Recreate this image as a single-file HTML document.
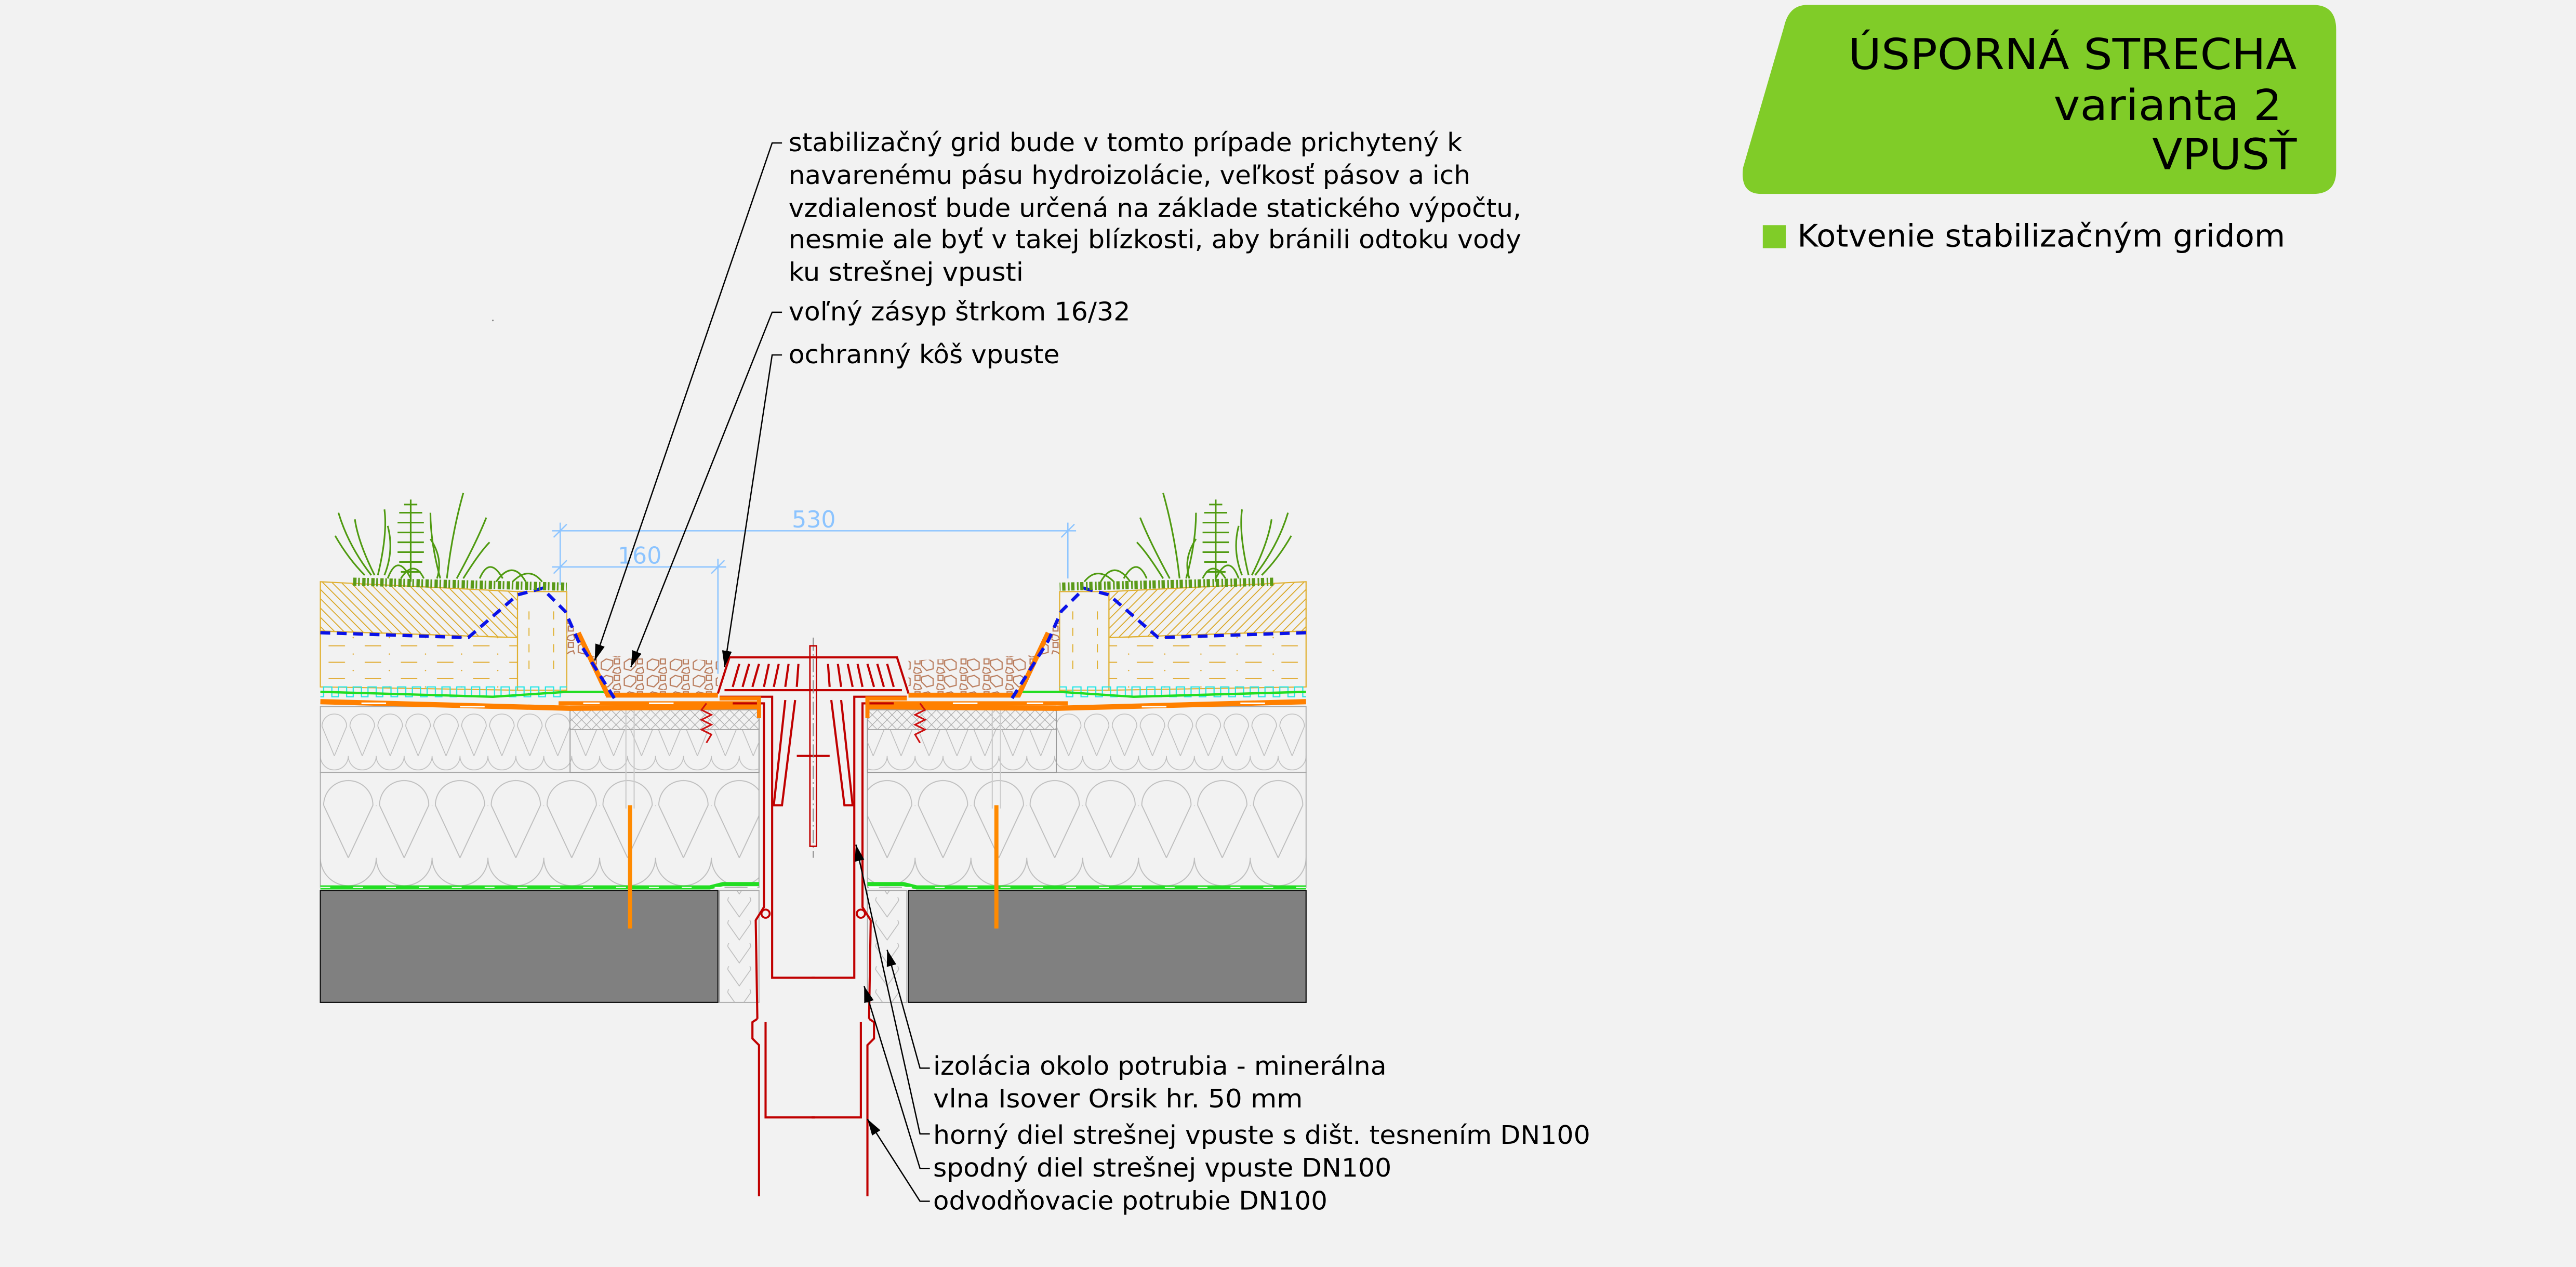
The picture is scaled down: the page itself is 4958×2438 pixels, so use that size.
<!DOCTYPE html>
<html><head><meta charset="utf-8">
<style>
html,body{margin:0;padding:0;background:#f2f2f2;}
svg{display:block;}
text{font-family:"DejaVu Sans","Liberation Sans",sans-serif;fill:#000;}
</style></head>
<body>
<svg width="4958" height="2438" viewBox="0 0 1568 771" xmlns="http://www.w3.org/2000/svg">
<defs>
<pattern id="insL" width="34" height="70" patternUnits="userSpaceOnUse" x="195" y="470">
<path d="M2,20 A15,15 0 0 1 32,20 L17,52 M2,20 L17,52 M0,52 A17,17 0 0 0 34,52" fill="none" stroke="#bdbdbd" stroke-width="0.6"/>
<path d="M-15,52 L0,20 M49,52 L34,20" fill="none" stroke="#bdbdbd" stroke-width="0.6"/>
</pattern>
<pattern id="insS" width="17" height="40" patternUnits="userSpaceOnUse" x="195" y="430">
<path d="M1,12 A7.5,7.5 0 0 1 16,12 L8.5,30 M1,12 L8.5,30 M0,30 A8.5,8.5 0 0 0 17,30" fill="none" stroke="#bdbdbd" stroke-width="0.5"/>
</pattern>
<pattern id="insP" width="20" height="14" patternUnits="userSpaceOnUse">
<path d="M3,2 A7,5 0 0 1 17,2 L10,12 L3,2 M3,16 A7,5 0 0 0 17,16" fill="none" stroke="#bbb" stroke-width="0.5"/>
</pattern>
<pattern id="cross" width="6" height="6" patternUnits="userSpaceOnUse">
<path d="M0,0 L6,6 M6,0 L0,6" stroke="#aaa" stroke-width="0.4"/>
</pattern>
<pattern id="hatch" width="4" height="4" patternUnits="userSpaceOnUse" patternTransform="rotate(-45)">
<line x1="0" y1="0" x2="0" y2="4" stroke="#d9a520" stroke-width="1.1"/>
</pattern>
<pattern id="grav" width="14" height="10" patternUnits="userSpaceOnUse">
<path d="M2,3 L5,1 L9,2 L9,5 L6,8 L2,7 Z M10,7 L13,6 L14,9 L12,10 L9,9 Z M10,1 L13,1 L13,4 L10,4 Z" fill="none" stroke="#b87a5a" stroke-width="0.7"/>
</pattern>
<pattern id="dash" width="22" height="10" patternUnits="userSpaceOnUse">
<line x1="2" y1="3" x2="12" y2="3" stroke="#e0a82a" stroke-width="0.6"/>
<circle cx="17" cy="8" r="0.4" fill="#e0a82a"/>
</pattern>
<pattern id="cyan" width="9" height="8" patternUnits="userSpaceOnUse" x="195" y="417">
<path d="M0,7 L2,7 L2,1 L7,1 L7,7 L9,7" fill="none" stroke="#22e6e6" stroke-width="0.7"/>
</pattern>
<marker id="ar" markerWidth="10" markerHeight="6" refX="10" refY="3" orient="auto" markerUnits="userSpaceOnUse">
<path d="M0,0 L10,3 L0,6 Z" fill="#000"/>
</marker>
</defs>

<rect width="1568" height="771" fill="#f2f2f2"/>

<!-- title box -->
<path d="M1100,3 L1408,3 Q1422,3 1422,18 L1422,104 Q1422,118 1408,118 L1072,118 Q1059,118 1061,102 L1086,16 Q1089,3 1100,3 Z" fill="#80cc28"/>
<text x="1125" y="42" font-size="26" textLength="273" lengthAdjust="spacingAndGlyphs">ÚSPORNÁ STRECHA</text>
<text x="1250" y="73" font-size="26" textLength="139" lengthAdjust="spacingAndGlyphs">varianta 2</text>
<text x="1310" y="103" font-size="26" textLength="88" lengthAdjust="spacingAndGlyphs">VPUSŤ</text>
<rect x="1073" y="137" width="14" height="14" fill="#80cc28"/>
<text x="1094" y="150" font-size="19" textLength="297" lengthAdjust="spacingAndGlyphs">Kotvenie stabilizačným gridom</text>
<circle cx="300" cy="195" r="0.5" fill="#888"/>

<!-- LEFT HALF (mirrored for right) -->
<g id="half">
<rect x="195" y="542" width="242" height="68" fill="#808080" stroke="#111" stroke-width="0.7"/>
<rect x="438" y="542" width="24" height="68" fill="url(#insP)" stroke="#aaa" stroke-width="0.6"/>
<rect x="195" y="470" width="267" height="70" fill="url(#insL)" stroke="#aaa" stroke-width="0.6"/>
<rect x="195" y="430" width="267" height="40" fill="url(#insS)" stroke="#aaa" stroke-width="0.6"/>
<rect x="347" y="432" width="115" height="38" fill="#f2f2f2" stroke="#999" stroke-width="0.6"/>
<rect x="347" y="432" width="115" height="38" fill="url(#insS)"/>
<rect x="347" y="432" width="115" height="12" fill="#f2f2f2" stroke="#999" stroke-width="0.5"/>
<rect x="347" y="432" width="115" height="12" fill="url(#cross)"/>
<path d="M195,540 L432,540 L440,538 L462,538" stroke="#22dd22" stroke-width="2.5" fill="none"/>
<path d="M195,540 L462,540" stroke="#fff" stroke-width="0.6" stroke-dasharray="6,14" fill="none"/>
<!-- anchor -->
<line x1="381" y1="430" x2="381" y2="492" stroke="#ccc" stroke-width="0.7"/>
<line x1="386" y1="430" x2="386" y2="492" stroke="#ccc" stroke-width="0.7"/>
<line x1="383.5" y1="490" x2="383.5" y2="565" stroke="#ff8a00" stroke-width="2.5"/>
<!-- substrate -->
<polygon points="195,384 315,388 315,420 195,418" fill="url(#dash)" stroke="#e0b030" stroke-width="0.7"/>
<polygon points="195,354 315,360 315,388 195,384" fill="url(#hatch)" stroke="#e0b030" stroke-width="0.7"/>
<rect x="315" y="360" width="30" height="60" fill="#f2f2f2" stroke="#e0b030" stroke-width="0.7"/>
<line x1="322" y1="372" x2="322" y2="412" stroke="#e0b030" stroke-width="0.6" stroke-dasharray="5,5"/>
<line x1="337" y1="372" x2="337" y2="412" stroke="#e0b030" stroke-width="0.6" stroke-dasharray="5,5"/>
<polygon points="345,375 360,400 372,423 437,423 437,402 345,398" fill="url(#grav)"/>
<rect x="195" y="417" width="150" height="8" fill="url(#cyan)"/>
<path d="M195,421 L300,424 L345,421 L372,421" stroke="#22dd22" stroke-width="1.4" fill="none"/>
<path d="M195,427 L347,431 L462,430" stroke="#ff8000" stroke-width="3.2" fill="none"/>
<path d="M340,428 L462,428" stroke="#ff8000" stroke-width="2.5" fill="none"/>
<path d="M352,385 L370,423 L437,423" stroke="#ff8000" stroke-width="3" fill="none"/>
<path d="M220,428 L235,428 M280,430 L295,430 M355,428 L365,428 M395,428 L410,428" stroke="#fff" stroke-width="1"/>
<path d="M195,385 L285,388 L315,362 L330,358 L344,372 L352,390 L374,425" stroke="#0a12e8" stroke-width="2" stroke-dasharray="6,4" fill="none"/>
<!-- screw -->
<path d="M430,428 L427,432 L433,435 L427,438 L433,441 L427,444 L433,447 L430,452" stroke="#cc1111" stroke-width="1" fill="none"/>
<!-- plants -->
<g stroke="#4f9a10" stroke-width="1" fill="none">
<path d="M226,350 Q212,332 206,312 M228,350 Q218,330 216,316 M230,350 Q236,325 234,310 M222,350 Q212,340 204,326 M234,350 Q240,335 236,320"/>
<path d="M250,354 L250,304 M243,312 L257,312 M242,318 L258,318 M242,324 L258,324 M242,330 L258,330 M242,336 L258,336 M243,342 L257,342 M244,348 L256,348 M246,307 L254,307"/>
<path d="M268,352 Q262,330 262,312 M272,352 Q275,325 282,300 M278,352 Q290,330 296,315 M266,352 Q270,340 262,328 M282,352 Q292,336 298,330"/>
<path d="M236,352 Q242,336 250,352 M244,352 Q252,340 258,352 M292,352 Q298,338 306,352 M302,354 Q312,340 320,354 M312,354 Q322,344 330,354"/>
</g>
<path d="M215,354 L345,357" stroke="#5a9a18" stroke-width="5" stroke-dasharray="2,1,1,1.5" fill="none"/>
<!-- drain parts -->
<g stroke="#c00000" stroke-width="1.3" fill="none">
<path d="M438,424 L470,424 L470,595 L496,595"/>
<path d="M446,428 L465,428 L465,552 L460,560 L461,620"/>
<path d="M461,620 L458,622 L458,632 L462,636 L462,728"/>
<path d="M466,622 L466,680 L496,680"/>
<path d="M437,422 L444,400 L496,400 M441,420 L496,420"/>
<path d="M450,404 L446,418 M456,404 L452,418 M462,404 L458,418 M468,404 L465,418 M474,404 L471,418 M480,404 L478,418 M486,404 L485,418"/>
<path d="M478,426 L471,490 L476,490 L484,426 M485,460 L496,460"/>
</g>
<circle cx="466" cy="556" r="2.5" fill="none" stroke="#c00000" stroke-width="1.2"/>
<path d="M438,425 L462,425 L462,437" stroke="#ff8000" stroke-width="2.5" fill="none"/>
</g>
<use href="#half" transform="translate(990,0) scale(-1,1)"/>

<!-- centre rod -->
<line x1="495" y1="388" x2="495" y2="522" stroke="#888" stroke-width="0.6" stroke-dasharray="8,2,1,2"/>
<rect x="493" y="393" width="4" height="122" fill="none" stroke="#c00000" stroke-width="0.9"/>

<!-- dimensions -->
<g stroke="#8cc4ff" stroke-width="0.8" fill="none">
<line x1="336" y1="323" x2="655" y2="323"/>
<line x1="336" y1="345" x2="442" y2="345"/>
<line x1="341" y1="318" x2="341" y2="356"/>
<line x1="650" y1="318" x2="650" y2="352"/>
<line x1="437" y1="340" x2="437" y2="410"/>
<path d="M337,327 L345,319 M646,327 L654,319 M337,349 L345,341 M433,349 L441,341"/>
</g>
<text x="482" y="321" font-size="14" style="fill:#8cc4ff">530</text>
<text x="376" y="343" font-size="14" style="fill:#8cc4ff">160</text>

<!-- leaders -->
<g stroke="#000" stroke-width="0.8" fill="none">
<path d="M476,87 L470,87 L362,402" marker-end="url(#ar)"/>
<path d="M476,190 L470,190 L384,406" marker-end="url(#ar)"/>
<path d="M476,216 L470,216 L441,406" marker-end="url(#ar)"/>
<path d="M566,650 L560,650 L540,578" marker-end="url(#ar)"/>
<path d="M566,690 L560,690 L521,514" marker-end="url(#ar)"/>
<path d="M566,711 L560,711 L526,600" marker-end="url(#ar)"/>
<path d="M566,731 L560,731 L528,681" marker-end="url(#ar)"/>
</g>

<!-- texts -->
<g font-size="15.5">
<text x="480" y="92" textLength="410" lengthAdjust="spacingAndGlyphs">stabilizačný grid bude v tomto prípade prichytený k</text>
<text x="480" y="112" textLength="415" lengthAdjust="spacingAndGlyphs">navarenému pásu hydroizolácie, veľkosť pásov a ich</text>
<text x="480" y="132" textLength="446" lengthAdjust="spacingAndGlyphs">vzdialenosť bude určená na základe statického výpočtu,</text>
<text x="480" y="151" textLength="446" lengthAdjust="spacingAndGlyphs">nesmie ale byť v takej blízkosti, aby bránili odtoku vody</text>
<text x="480" y="171" textLength="143" lengthAdjust="spacingAndGlyphs">ku strešnej vpusti</text>
<text x="480" y="195" textLength="208" lengthAdjust="spacingAndGlyphs">voľný zásyp štrkom 16/32</text>
<text x="480" y="221" textLength="165" lengthAdjust="spacingAndGlyphs">ochranný kôš vpuste</text>
<text x="568" y="654" textLength="276" lengthAdjust="spacingAndGlyphs">izolácia okolo potrubia - minerálna</text>
<text x="568" y="674" textLength="225" lengthAdjust="spacingAndGlyphs">vlna Isover Orsik hr. 50 mm</text>
<text x="568" y="696" textLength="400" lengthAdjust="spacingAndGlyphs">horný diel strešnej vpuste s dišt. tesnením DN100</text>
<text x="568" y="716" textLength="279" lengthAdjust="spacingAndGlyphs">spodný diel strešnej vpuste DN100</text>
<text x="568" y="736" textLength="240" lengthAdjust="spacingAndGlyphs">odvodňovacie potrubie DN100</text>
</g>
</svg>
</body></html>
